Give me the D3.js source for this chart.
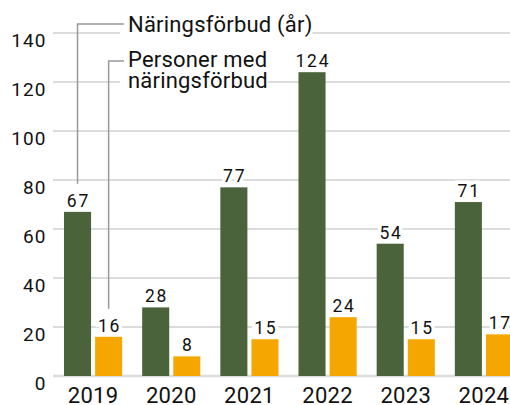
<!DOCTYPE html>
<html>
<head>
<meta charset="utf-8">
<script src="https://cdn.jsdelivr.net/npm/d3@7"></script>
<style>
  body { margin: 0; background: #fff; }
  svg { display: block; font-family: Roboto, "Noto Sans", sans-serif; }
</style>
</head>
<body>
<svg id="chart" width="510" height="405"></svg>
<script>
const years = ["2019", "2020", "2021", "2022", "2023", "2024"];
const forbudAr = [67, 28, 77, 124, 54, 71];
const personer = [16, 8, 15, 24, 15, 17];
const yTicks = [0, 20, 40, 60, 80, 100, 120, 140];
const seriesNames = ["Näringsförbud (år)", "Personer med näringsförbud"];

const colors = ["#4b633b", "#f6a600"];

const svg = d3.select("#chart");

const y = d3.scaleLinear().domain([0, 140]).range([376, 33]);
const x = d3.scaleBand()
  .domain(years)
  .range([54, 523])
  .paddingInner(0.256)
  .paddingOuter(0.128);
const xSub = d3.scaleBand()
  .domain([0, 1])
  .range([0, x.bandwidth()])
  .paddingInner(0.13);

// grid
svg.append("g")
  .selectAll("line")
  .data(yTicks)
  .join("line")
  .attr("x1", 53)
  .attr("x2", 510)
  .attr("y1", d => y(d))
  .attr("y2", d => y(d))
  .attr("stroke", "#dcdcdc")
  .attr("stroke-width", d => d === 0 ? 2.5 : 1.8);

// y tick labels
svg.append("g")
  .selectAll("text")
  .data(yTicks)
  .join("text")
  .attr("x", 46.5)
  .attr("y", d => y(d) + 13.5)
  .attr("text-anchor", "end")
  .attr("font-size", 19)
  .attr("letter-spacing", 1.1)
  .attr("fill", "#111")
  .text(d => d);

// bars
const data = years.map((yr, i) => ({ year: yr, vals: [forbudAr[i], personer[i]] }));
const groups = svg.append("g")
  .selectAll("g")
  .data(data)
  .join("g")
  .attr("transform", d => `translate(${x(d.year)},0)`);

groups.selectAll("rect")
  .data(d => d.vals)
  .join("rect")
  .attr("x", (d, i) => xSub(i))
  .attr("width", xSub.bandwidth())
  .attr("y", d => y(d))
  .attr("height", d => y(0) - y(d))
  .attr("fill", (d, i) => colors[i]);

groups.selectAll("text")
  .data(d => d.vals)
  .join("text")
  .attr("x", (d, i) => xSub(i) + xSub.bandwidth() / 2 + 0.9)
  .attr("y", d => y(d) - 5)
  .attr("text-anchor", "middle")
  .attr("font-size", 17.5)
  .attr("letter-spacing", 1.8)
  .attr("fill", "#111")
  .attr("stroke", "#fff")
  .attr("stroke-width", 7)
  .attr("paint-order", "stroke")
  .text(d => d);

// x labels
svg.append("g")
  .selectAll("text")
  .data(years)
  .join("text")
  .attr("x", d => x(d) + x.bandwidth() / 2)
  .attr("y", 403)
  .attr("text-anchor", "middle")
  .attr("font-size", 22)
  .attr("letter-spacing", 0.3)
  .attr("fill", "#111")
  .text(d => d);

// annotations on white boxes that hide the grid
const annLines = [
  { text: seriesNames[0], y: 31.5 },
  { text: "Personer med", y: 66.5 },
  { text: "näringsförbud", y: 87.5 }
];
const ann = svg.append("g")
  .attr("font-size", 22)
  .attr("letter-spacing", 0.2);
const boxes = ann.append("g");

const labels = ann.selectAll("text")
  .data(annLines)
  .join("text")
  .attr("x", 128)
  .attr("y", d => d.y)
  .attr("fill", "#111")
  .text(d => d.text);

labels.each(function () {
  const b = this.getBBox();
  boxes.append("rect")
    .attr("x", b.x - 8)
    .attr("y", b.y)
    .attr("width", b.width + 8)
    .attr("height", b.height)
    .attr("fill", "#fff");
});

const leaders = svg.append("g")
  .attr("fill", "none")
  .attr("stroke", "#999")
  .attr("stroke-width", 1.5);

const cx0 = x(years[0]) + xSub(0) + xSub.bandwidth() / 2;
const cx1 = x(years[0]) + xSub(1) + xSub.bandwidth() / 2;
leaders.append("path")
  .attr("d", `M124,24H${cx0}V${y(forbudAr[0]) - 28}`);
leaders.append("path")
  .attr("d", `M124,61H${cx1}V${y(personer[0]) - 28}`);
</script>
</body>
</html>
